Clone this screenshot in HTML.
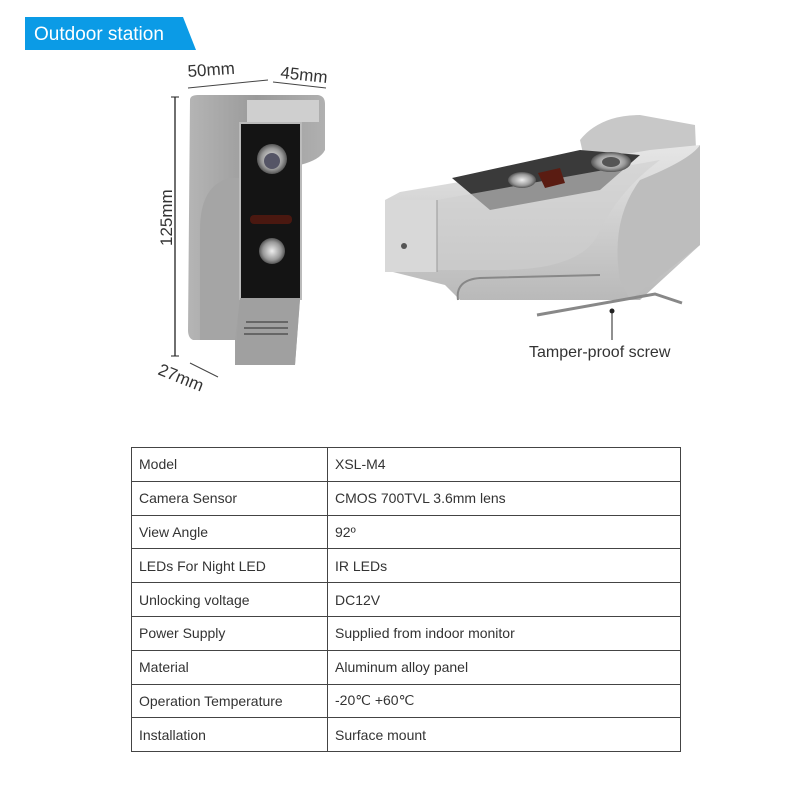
<!DOCTYPE html>
<html><head><meta charset="utf-8"><style>
body{margin:0;width:800px;height:800px;background:#fff;position:relative;overflow:hidden;font-family:"Liberation Sans",sans-serif}
table{position:absolute;left:131px;top:447px;border-collapse:collapse;width:550px}
td{border:1px solid #444;height:33.8px;padding:0 0 0 7px;font-size:14px;color:#333;box-sizing:border-box}
td:first-child{width:196px}
</style></head><body>
<svg width="800" height="440" style="position:absolute;left:0;top:0">
<defs>
<linearGradient id="g1" x1="0" x2="1"><stop offset="0" stop-color="#b5b5b5"/><stop offset=".5" stop-color="#9a9a9a"/><stop offset="1" stop-color="#b0b0b0"/></linearGradient>
<linearGradient id="g2" x1="0" y1="0" x2="0" y2="1"><stop offset="0" stop-color="#e6e6e6"/><stop offset="1" stop-color="#b9b9b9"/></linearGradient>
<radialGradient id="btn"><stop offset="0" stop-color="#eee"/><stop offset=".7" stop-color="#999"/><stop offset="1" stop-color="#555"/></radialGradient>
</defs>
<polygon points="25,17 183,17 196,50 25,50" fill="#0b9be6"/>
<text x="34" y="40" font-size="19" fill="#fff" font-family="Liberation Sans">Outdoor station</text>
<line x1="175" y1="97" x2="175" y2="356" stroke="#222" stroke-width="1.3"/>
<line x1="171" y1="97" x2="179" y2="97" stroke="#222"/><line x1="171" y1="356" x2="179" y2="356" stroke="#222"/>
<text transform="translate(172,246) rotate(-90)" font-size="17" fill="#333">125mm</text>
<line x1="188" y1="88" x2="268" y2="80" stroke="#444"/>
<line x1="273" y1="82" x2="326" y2="88" stroke="#444"/>
<text x="188" y="77" font-size="17" fill="#333" transform="rotate(-4 188 77)">50mm</text>
<text x="280" y="78" font-size="17" fill="#333" transform="rotate(6 280 78)">45mm</text>
<line x1="190" y1="363" x2="218" y2="377" stroke="#444"/>
<text x="157" y="374" font-size="17" fill="#333" transform="rotate(22 157 374)">27mm</text>
<path d="M190,100 Q190,95 198,95 L318,95 Q325,96 325,104 L325,150 Q320,160 300,165 L300,300 L295,365 L235,365 L235,340 L193,340 Q188,338 188,330 Z" fill="url(#g1)"/>
<path d="M200,340 L200,230 Q200,185 230,178 L240,178 L240,298 L235,340 Z" fill="#a5a5a5"/>
<rect x="247" y="100" width="72" height="22" fill="#cfcfcf"/>
<rect x="240" y="123" width="61" height="176" fill="#141414" stroke="#bbb" stroke-width="2"/>
<circle cx="272" cy="159" r="15" fill="url(#btn)"/><circle cx="272" cy="161" r="8" fill="#556"/>
<rect x="250" y="215" width="42" height="9" rx="4" fill="#4a1810"/>
<circle cx="272" cy="251" r="13" fill="url(#btn)"/>
<path d="M240,298 L300,298 L295,365 L235,365 Z" fill="#a0a0a0"/>
<g fill="#666">
<rect x="246" y="321" width="42" height="2"/><rect x="244" y="327" width="44" height="2"/><rect x="244" y="333" width="44" height="2"/></g>
<path d="M580,140 Q600,115 640,115 L695,125 L700,245 L690,250 L640,250 L590,185 Z" fill="#c8c8c8"/>
<path d="M385,200 L400,192 L590,160 L650,150 L700,145 L700,245 L640,300 L460,300 L445,285 L385,270 Z" fill="url(#g2)"/>
<path d="M452,178 L580,150 L640,155 L600,190 L490,210 Z" fill="#3a3a3a"/>
<path d="M437,200 L660,160 Q620,190 600,230 Q585,270 500,270 L437,270 Z" fill="#cfcfcf" opacity=".6"/>
<path d="M640,180 Q690,160 700,145 L700,245 L630,300 L620,280 Q610,220 640,180 Z" fill="#bdbdbd"/>
<rect x="385" y="200" width="52" height="72" fill="#d8d8d8"/>
<line x1="437" y1="200" x2="437" y2="272" stroke="#999"/>
<circle cx="404" cy="246" r="3" fill="#555"/>
<path d="M458,300 Q455,280 480,278 L600,275" stroke="#888" fill="none" stroke-width="2"/>
<ellipse cx="522" cy="180" rx="14" ry="8" fill="url(#btn)"/>
<ellipse cx="611" cy="162" rx="20" ry="10" fill="url(#btn)"/><ellipse cx="611" cy="162" rx="9" ry="5" fill="#555"/>
<path d="M538,173 L560,168 L565,183 L545,188 Z" fill="#5a1c12"/>
<path d="M537,315 L655,294 L682,303" stroke="#888" stroke-width="3" fill="none"/>
<line x1="612" y1="313" x2="612" y2="340" stroke="#222"/>
<circle cx="612" cy="311" r="2.5" fill="#222"/>
<text x="529" y="357" font-size="16" fill="#333">Tamper-proof screw</text>
</svg>
<table>
<tr><td>Model</td><td>XSL-M4</td></tr>
<tr><td>Camera Sensor</td><td>CMOS 700TVL 3.6mm lens</td></tr>
<tr><td>View Angle</td><td>92º</td></tr>
<tr><td>LEDs For Night LED</td><td>IR LEDs</td></tr>
<tr><td>Unlocking voltage</td><td>DC12V</td></tr>
<tr><td>Power Supply</td><td>Supplied from indoor monitor</td></tr>
<tr><td>Material</td><td>Aluminum alloy panel</td></tr>
<tr><td>Operation Temperature</td><td>-20℃ +60℃</td></tr>
<tr><td>Installation</td><td>Surface mount</td></tr>
</table>
</body></html>
